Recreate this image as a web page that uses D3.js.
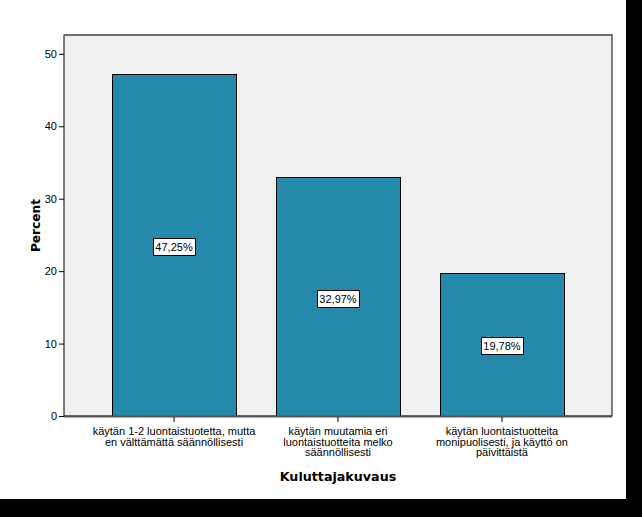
<!DOCTYPE html>
<html><head><meta charset="utf-8">
<script src="https://cdn.jsdelivr.net/npm/d3@7"></script>
<style>html,body{margin:0;padding:0;background:#000;}svg{display:block;}</style>
</head><body>
<script>
const categories = [
  ["käytän 1-2 luontaistuotetta, mutta", "en välttämättä säännöllisesti"],
  ["käytän muutamia eri", "luontaistuotteita melko", "säännöllisesti"],
  ["käytän luontaistuotteita", "monipuolisesti, ja käyttö on", "päivittäistä"]
];
const percents = [47.25, 32.97, 19.78];
const labels = ["47,25%", "32,97%", "19,78%"];
const yTicks = [0, 10, 20, 30, 40, 50];

const W = 642, H = 517;
const svg = d3.select("body").append("svg").attr("width", W).attr("height", H);
svg.append("rect").attr("width", W).attr("height", H).attr("fill", "#000");
svg.append("rect").attr("width", 626).attr("height", 499).attr("fill", "#fff");

const L = 64, R = 612, T = 35, B = 416;
const x = d3.scaleBand().domain(d3.range(categories.length)).range([L, R]).paddingInner(0.244).paddingOuter(0.293);
const y = d3.scaleLinear().domain([0, 52.6]).range([B, T]);

svg.append("rect").attr("x", L).attr("y", T).attr("width", R - L).attr("height", B - T)
  .attr("fill", "#f0f0f0").attr("stroke", "#000").attr("stroke-width", 1);
svg.append("line").attr("x1", L).attr("x2", R + 0.5).attr("y1", T).attr("y2", T).attr("stroke", "#6f6f6f").attr("stroke-width", 2);

svg.selectAll("rect.bar").data(percents).enter().append("rect").attr("class", "bar")
  .attr("x", (d, i) => Math.round(x(i)) + 0.5).attr("width", Math.round(x.bandwidth()))
  .attr("y", d => Math.round(y(d)) + 0.5).attr("height", d => B - Math.round(y(d)))
  .attr("fill", "#2489ab").attr("stroke", "#000").attr("stroke-width", 1);

// y axis
const yAxis = svg.append("g").attr("transform", `translate(${L},0)`)
  .call(d3.axisLeft(y).tickValues(yTicks).tickSize(5).tickPadding(2).tickFormat(d3.format("d")));
yAxis.select(".domain").remove();
yAxis.selectAll("line").attr("stroke", "#000");
yAxis.selectAll("text").attr("font-family", "Liberation Sans, Arial, sans-serif").attr("font-size", 11).attr("fill", "#000");

// x axis
svg.append("line").attr("x1", L).attr("x2", R).attr("y1", B + 0.5).attr("y2", B + 0.5).attr("stroke", "#555").attr("stroke-width", 2);
const xAxis = svg.append("g").attr("transform", `translate(0,${B + 1})`)
  .call(d3.axisBottom(x).tickSize(5).tickFormat(""));
xAxis.select(".domain").remove();
xAxis.selectAll("line").attr("stroke", "#000");

categories.forEach((lines, i) => {
  const t = svg.append("text").attr("x", x(i) + x.bandwidth() / 2).attr("y", 435)
    .attr("text-anchor", "middle").attr("font-family", "Liberation Sans, Arial, sans-serif").attr("font-size", 11).attr("fill", "#000");
  lines.forEach((ln, j) => t.append("tspan").attr("x", x(i) + x.bandwidth() / 2).attr("dy", j ? 10.5 : 0).text(ln));
});

// value labels
percents.forEach((v, i) => {
  const cx = x(i) + x.bandwidth() / 2, cy = y(v / 2) + 2;
  const g = svg.append("g");
  const t = g.append("text").attr("x", cx).attr("y", cy + 4).attr("text-anchor", "middle")
    .attr("font-family", "Liberation Sans, Arial, sans-serif").attr("font-size", 11).attr("fill", "#000").text(labels[i]);
  const bb = t.node().getBBox();
  g.insert("rect", "text").attr("x", Math.round(bb.x - 2) + 0.5).attr("y", Math.round(cy - 9) + 0.5)
    .attr("width", Math.round(bb.width + 4)).attr("height", 17).attr("fill", "#fff").attr("stroke", "#000").attr("stroke-width", 1);
});

// axis titles
svg.append("text").attr("transform", `translate(40,${(T + B) / 2}) rotate(-90)`).attr("text-anchor", "middle")
  .attr("font-family", "DejaVu Sans, Verdana, sans-serif").attr("font-weight", "bold").attr("font-size", 12.2).attr("fill", "#000").text("Percent");
svg.append("text").attr("x", 338).attr("y", 481).attr("text-anchor", "middle")
  .attr("font-family", "DejaVu Sans, Verdana, sans-serif").attr("font-weight", "bold").attr("font-size", 12.7).attr("fill", "#000").text("Kuluttajakuvaus");
</script>
</body></html>
